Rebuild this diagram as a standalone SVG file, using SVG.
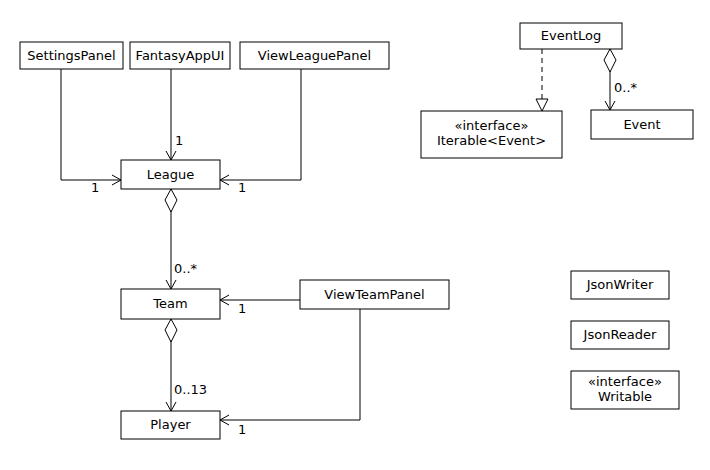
<svg xmlns="http://www.w3.org/2000/svg" width="710" height="470" viewBox="0 0 710 470">
<style>
.box{fill:#fff;stroke:#000;stroke-width:1}
.t{font-family:"DejaVu Sans",sans-serif;font-size:13px;fill:#000;text-anchor:middle}
.m{font-family:"DejaVu Sans",sans-serif;font-size:13px;fill:#000}
.ln{fill:none;stroke:#000;stroke-width:1}
.dash{fill:none;stroke:#000;stroke-width:1;stroke-dasharray:5,4}
</style>
<defs>
<marker id="open" markerWidth="12" markerHeight="12" refX="10" refY="6" orient="auto" markerUnits="userSpaceOnUse">
<path d="M1,1 L10,6 L1,11" fill="none" stroke="#000" stroke-width="1"/>
</marker>
<marker id="tri" markerWidth="16" markerHeight="16" refX="13" refY="7" orient="auto" markerUnits="userSpaceOnUse">
<path d="M1,1 L13,7 L1,13 Z" fill="#fff" stroke="#000" stroke-width="1"/>
</marker>
<marker id="dia" markerWidth="26" markerHeight="16" refX="1" refY="7" orient="auto" markerUnits="userSpaceOnUse">
<path d="M1,7 L12,1 L24,7 L12,13 Z" fill="#fff" stroke="#000" stroke-width="1"/>
</marker>
</defs>
<rect width="710" height="470" fill="#fff"/>
<g id="connectors">
<path class="ln" d="M61,69 V180 H121" marker-end="url(#open)"/>
<path class="ln" d="M171,69 V160" marker-end="url(#open)"/>
<path class="ln" d="M301,69 V180 H220" marker-end="url(#open)"/>
<path class="ln" d="M171,189 V289" marker-start="url(#dia)" marker-end="url(#open)"/>
<path class="ln" d="M300,300 H220" marker-end="url(#open)"/>
<path class="ln" d="M171,319 V411" marker-start="url(#dia)" marker-end="url(#open)"/>
<path class="ln" d="M360,309 V420 H220" marker-end="url(#open)"/>
<path class="dash" d="M542,49 V111" marker-end="url(#tri)"/>
<path class="ln" d="M610,49 V110" marker-start="url(#dia)" marker-end="url(#open)"/>
<text class="m" x="91" y="192">1</text>
<text class="m" x="175" y="145">1</text>
<text class="m" x="238" y="192">1</text>
<text class="m" x="174" y="273">0..*</text>
<text class="m" x="238" y="313">1</text>
<text class="m" x="174" y="394">0..13</text>
<text class="m" x="238" y="434">1</text>
<text class="m" x="614" y="92">0..*</text>
</g>
<g id="SettingsPanel"><rect class="box" x="20" y="42" width="103" height="27"/><text class="t" x="71.5" y="60">SettingsPanel</text></g>
<g id="FantasyAppUI"><rect class="box" x="130" y="42" width="100" height="27"/><text class="t" x="180" y="60">FantasyAppUI</text></g>
<g id="ViewLeaguePanel"><rect class="box" x="240" y="42" width="149" height="27"/><text class="t" x="314.5" y="60">ViewLeaguePanel</text></g>
<g id="League"><rect class="box" x="121" y="160" width="99" height="29"/><text class="t" x="170.5" y="179">League</text></g>
<g id="Team"><rect class="box" x="121" y="289" width="99" height="30"/><text class="t" x="170.5" y="308">Team</text></g>
<g id="Player"><rect class="box" x="121" y="411" width="99" height="28"/><text class="t" x="170.5" y="429">Player</text></g>
<g id="ViewTeamPanel"><rect class="box" x="300" y="280" width="149" height="29"/><text class="t" x="374.5" y="299">ViewTeamPanel</text></g>
<g id="EventLog"><rect class="box" x="520" y="23" width="102" height="26"/><text class="t" x="571" y="40">EventLog</text></g>
<g id="IterableEvent"><rect class="box" x="421" y="111" width="141" height="47"/><text class="t" x="491.5" y="130">«interface»</text><text class="t" x="491.5" y="145">Iterable&lt;Event&gt;</text></g>
<g id="Event"><rect class="box" x="591" y="110" width="102" height="29"/><text class="t" x="642" y="129">Event</text></g>
<g id="JsonWriter"><rect class="box" x="571" y="271" width="98" height="28"/><text class="t" x="620" y="289">JsonWriter</text></g>
<g id="JsonReader"><rect class="box" x="571" y="321" width="98" height="28"/><text class="t" x="620" y="339">JsonReader</text></g>
<g id="Writable"><rect class="box" x="571" y="371" width="108" height="38"/><text class="t" x="625" y="386">«interface»</text><text class="t" x="625" y="401">Writable</text></g>
</svg>
